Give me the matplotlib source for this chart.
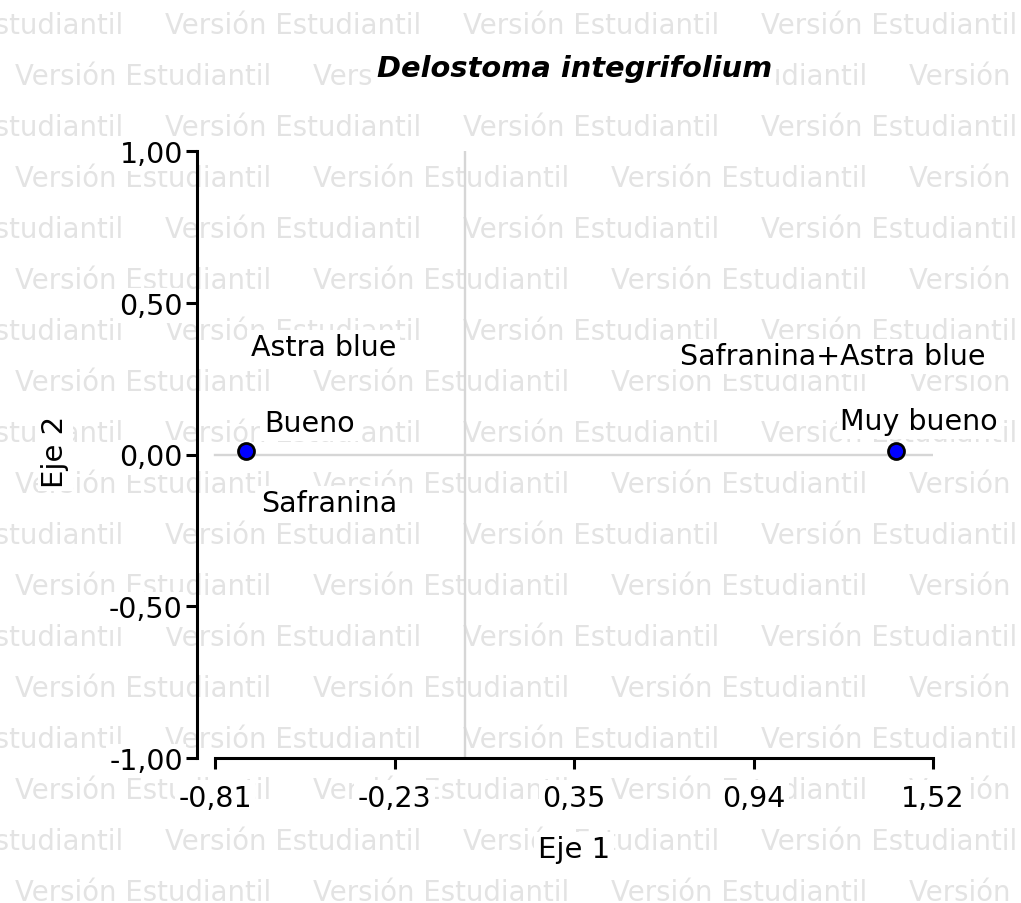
import matplotlib
matplotlib.use('Agg')
import matplotlib.pyplot as plt

# ---- data ----
title = 'Delostoma integrifolium'
x_label = 'Eje 1'
y_label = 'Eje 2'
quality = ['Bueno', 'Muy bueno']
eje1 = [-0.71, 1.40]
eje2 = [0.01, 0.01]
stains = [['Astra blue', 'Safranina'], ['Safranina+Astra blue']]
x_ticks = [-0.81, -0.2275, 0.355, 0.9375, 1.52]
x_ticklabels = ['-0,81', '-0,23', '0,35', '0,94', '1,52']
y_ticks = [-1.0, -0.5, 0.0, 0.5, 1.0]
y_ticklabels = ['-1,00', '-0,50', '0,00', '0,50', '1,00']
watermark = 'Versión Estudiantil'

# ---- figure ----
W, H = 1021, 904
plt.rcParams['font.family'] = ['DejaVu Sans']
fig = plt.figure(figsize=(W / 100, H / 100), dpi=100)
fig.patch.set_facecolor('white')

def fx(x):
    return x / W

def fy(y):
    return 1 - y / H

# watermark tiling
for k in range(18):
    base = 34 + 51 * k
    x0 = 15 if k % 2 else -133
    for j in range(5):
        xx = x0 + 298 * j
        if xx > W:
            break
        fig.text(fx(xx), fy(base), watermark, fontsize=19.8, color='#e3e3e3',
                 ha='left', va='baseline', zorder=-5)

# axes: left spine at px 197, bottom at px 759, top at px 152, right px 933
ax_l, ax_r, ax_t, ax_b = 197, 933, 152, 759
tick0_px = 215
ax = fig.add_axes([fx(ax_l), fy(ax_b), (ax_r - ax_l) / W, (ax_b - ax_t) / H])
ax.set_facecolor('none')
ppu = (ax_r - tick0_px) / (x_ticks[-1] - x_ticks[0])
ax.set_xlim(x_ticks[0] - (tick0_px - ax_l) / ppu, x_ticks[-1])
ax.set_ylim(y_ticks[0], y_ticks[-1])

for s in ['top', 'right']:
    ax.spines[s].set_visible(False)
for s in ['left', 'bottom']:
    ax.spines[s].set_linewidth(2.2)
    ax.spines[s].set_color('black')
ax.spines['left'].set_bounds(y_ticks[0], y_ticks[-1])
ax.spines['bottom'].set_bounds(x_ticks[0], x_ticks[-1])

ax.set_xticks(x_ticks)
ax.set_xticklabels(x_ticklabels)
ax.set_yticks(y_ticks)
ax.set_yticklabels(y_ticklabels)
ax.tick_params(axis='both', direction='out', length=8, width=2.2, labelsize=20.5, colors='black')
ax.tick_params(axis='x', pad=10.5)
ax.tick_params(axis='y', pad=2.2)
box = dict(boxstyle='square,pad=0.12', fc='white', ec='none')
for lbl in ax.get_xticklabels() + ax.get_yticklabels():
    lbl.set_bbox(box)

# reference lines
ax.plot([x_ticks[0], x_ticks[-1]], [0, 0], color='#d6d6d6', lw=1.7, zorder=1)
ax.plot([0, 0], [y_ticks[0], y_ticks[-1]], color='#d6d6d6', lw=1.7, zorder=1)

# points
ax.plot(eje1, eje2, 'o', ms=11.5, mfc='#0000ff', mec='black', mew=2.0,
        zorder=3, clip_on=False)

# labels (pixel offsets from points)
q_offsets = [(18, 20), (-56, 22)]
s_offsets = [[(5, 96), (15, -60)], [(-216, 87)]]
for i in range(len(quality)):
    ax.annotate(quality[i], (eje1[i], eje2[i]), xytext=q_offsets[i],
                textcoords='offset pixels', ha='left', va='baseline',
                fontsize=20.5, bbox=box, zorder=4, annotation_clip=False)
    for name, off in zip(stains[i], s_offsets[i]):
        ax.annotate(name, (eje1[i], eje2[i]), xytext=off,
                    textcoords='offset pixels', ha='left', va='baseline',
                    fontsize=20.5, bbox=box, zorder=4, annotation_clip=False)

# title and axis labels
fig.text(fx(575), fy(77), title, ha='center', va='baseline', fontsize=20.8,
         fontweight='bold', fontstyle='italic', bbox=box)
fig.text(fx(574), fy(858), x_label, ha='center', va='baseline', fontsize=21, bbox=box)
fig.text(fx(55), fy(452), y_label, ha='center', va='center', rotation=90,
         fontsize=21, bbox=box)

fig.savefig('out.png', dpi=100, facecolor='white')
